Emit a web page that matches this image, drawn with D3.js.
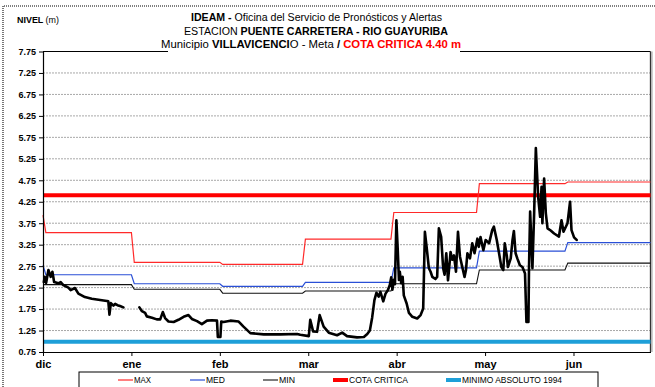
<!DOCTYPE html>
<html>
<head>
<meta charset="utf-8">
<script src="https://cdn.jsdelivr.net/npm/d3@7"></script>
<style>
  html, body { margin: 0; padding: 0; background: #fff; }
  svg { display: block; font-family: "Liberation Sans", Arial, sans-serif; }
</style>
</head>
<body>
<svg id="chart" width="655" height="387"></svg>
<script>
// ---- data ----------------------------------------------------------------
// Day index: 0 = last reading before 1 Dec, 1 = 1 Dec ... 213 = 30 Jun (leap year)
const months = ["dic", "ene", "feb", "mar", "abr", "may", "jun"];
const monthTicks = [0, 31, 62, 93, 124, 155, 186];
const monthFirstDay = [1, 32, 63, 92, 123, 153, 184];
const monthLastDay = [31, 62, 91, 122, 152, 183, 213];

// Historical monthly levels (m)
const maxLevels = [3.53, 2.84, 2.79, 3.38, 4.00, 4.67, 4.71];
const medLevels = [2.55, 2.34, 2.28, 2.37, 2.71, 3.10, 3.30];
const minLevels = [2.32, 2.21, 2.12, 2.17, 2.34, 2.66, 2.82];
const openingMax = 3.94;
const openingMed = 2.77;
const openingMin = 2.32;

const cotaCritica = 4.40;
const minimoAbsoluto = 0.99;

const yTicks = [0.75, 1.25, 1.75, 2.25, 2.75, 3.25, 3.75, 4.25, 4.75, 5.25, 5.75, 6.25, 6.75, 7.25, 7.75];
const yGrid = [1.25, 1.75, 2.25, 2.75, 3.25, 3.75, 4.25, 4.75, 5.25, 5.75, 6.25, 6.75, 7.25];

// Observed level [day, level]; null marks missing readings
const observed = [
  [0.3,2.38],[0.6,2.50],[1.1,2.36],[1.9,2.66],[2.7,2.50],[3.3,2.62],[3.9,2.38],[5.4,2.35],[6.2,2.38],
  [7.1,2.31],[8.9,2.25],[9.7,2.19],[11.2,2.24],[12.4,2.11],[14.7,2.03],[17.1,1.99],[22.4,1.94],[22.9,1.93],
  [23.3,1.62],[23.8,1.89],[24.7,1.83],[25.3,1.87],[26.1,1.84],[27.0,1.82],[28.2,1.79],
  null,
  [33.8,1.79],[34.7,1.70],[35.8,1.66],[36.4,1.58],[38.2,1.55],[39.9,1.51],[41.1,1.51],[42.0,1.68],[42.8,1.54],
  [44.0,1.46],[45.8,1.45],[47.5,1.50],[49.3,1.57],[51.0,1.61],[52.2,1.52],[54.0,1.47],[55.7,1.40],[57.5,1.48],
  [59.2,1.49],[61.0,1.48],[61.3,1.10],[62.2,1.10],[62.5,1.46],[63.3,1.45],[65.7,1.48],[68.6,1.46],[70.3,1.34],
  [72.7,1.19],[77.4,1.16],[83.2,1.16],[89.1,1.17],[90.2,1.15],[93.2,1.12],[93.7,1.50],[94.7,1.23],[96.1,1.22],
  [97.0,1.61],[98.4,1.34],[100.2,1.20],[103.1,1.14],[104.9,1.20],[106.6,1.12],[110.1,1.09],[112.5,1.10],
  [113.7,1.17],[114.6,1.25],[115.4,1.55],[116.2,1.96],[116.9,2.13],[117.7,2.04],[118.3,2.15],[119.3,1.93],
  [120.1,2.11],[120.9,2.19],[121.6,2.31],[122.1,2.49],[122.5,2.20],[123.0,2.43],[123.4,2.33],[123.9,3.82],
  [124.4,3.10],[124.8,2.43],[125.1,2.62],[125.6,2.35],[126.1,2.50],[126.5,2.07],[127.5,1.88],[128.3,1.66],
  [129.5,1.57],[131.2,1.53],[132.4,1.61],[133.3,1.76],[133.9,3.55],[134.5,3.20],[135.3,2.70],[135.9,2.62],
  [136.5,2.50],[137.6,2.45],[138.2,2.50],[138.8,3.63],[139.6,3.43],[140.3,2.70],[140.8,2.55],[141.4,3.05],
  [142.0,2.42],[142.4,2.70],[142.9,3.08],[143.5,2.90],[144.1,3.00],[144.8,2.62],[145.5,3.55],[146.2,2.97],
  [147.0,2.73],[147.8,2.50],[148.3,2.66],[148.8,3.05],[149.7,2.93],[150.5,3.28],[151.3,3.05],[152.3,3.39],
  [152.8,3.20],[153.4,3.43],[154.4,3.12],[155.2,3.36],[156.4,3.28],[157.5,3.59],[158.1,3.67],[159.1,3.36],
  [159.9,3.05],[160.7,2.73],[161.4,2.66],[161.9,3.28],[162.6,3.00],[163.0,2.73],[164.0,2.93],[164.6,3.35],
  [165.1,3.57],[165.7,3.05],[166.3,2.93],[167.2,2.77],[168.1,2.73],[169.0,2.58],[169.5,1.45],[170.2,1.45],
  [170.4,2.70],[170.8,4.02],[171.6,2.70],[172.2,3.98],[172.8,5.50],[173.6,4.37],[174.3,3.90],[174.8,4.60],
  [175.1,3.75],[175.7,4.79],[176.3,3.98],[176.9,3.63],[178.0,3.58],[179.2,3.51],[180.9,3.44],[181.8,3.82],
  [182.5,3.55],[183.9,3.75],[184.8,4.25],[185.3,3.59],[186.2,3.42],[187.1,3.36]
];

// ---- layout --------------------------------------------------------------
const svg = d3.select("#chart");
const plotLeft = 43, plotRight = 650.5, plotTop = 51.5, plotBottom = 352;

const x = d3.scaleLinear().domain([0, 213]).range([plotLeft, plotRight]);
const y = d3.scaleLinear().domain([0.75, 7.75]).range([plotBottom, plotTop]);

// outer dotted frame
svg.append("path")
  .attr("d", `M3,387 L3,6 L655,6`)
  .attr("fill", "none").attr("stroke", "#555").attr("stroke-width", 1.6)
  .attr("stroke-dasharray", "1,1");

// grid lines
svg.append("g").selectAll("line").data(yGrid).join("line")
  .attr("x1", plotLeft).attr("x2", plotRight)
  .attr("y1", d => y(d)).attr("y2", d => y(d))
  .attr("stroke", "#a8a8a8").attr("stroke-width", 1).attr("stroke-dasharray", "2,1");

// plot frame (top and right)
svg.append("line").attr("x1", plotLeft).attr("x2", plotRight).attr("y1", plotTop).attr("y2", plotTop)
  .attr("stroke", "#000").attr("stroke-width", 1);
svg.append("line").attr("x1", plotRight + 1.5).attr("x2", plotRight + 1.5).attr("y1", plotTop).attr("y2", plotBottom)
  .attr("stroke", "#cfcfcf").attr("stroke-width", 2);
svg.append("line").attr("x1", plotRight).attr("x2", plotRight).attr("y1", plotTop).attr("y2", plotBottom)
  .attr("stroke", "#333").attr("stroke-width", 1.3);

// step series built from the monthly values
function monthlySeries(opening, levels) {
  const pts = [[0, opening]];
  levels.forEach((v, i) => { pts.push([monthFirstDay[i], v]); pts.push([monthLastDay[i], v]); });
  return pts;
}
const line = d3.line().x(d => x(d[0])).y(d => y(d[1]));

// reference levels
svg.append("line")
  .attr("x1", plotLeft).attr("x2", plotRight).attr("y1", y(minimoAbsoluto)).attr("y2", y(minimoAbsoluto))
  .attr("stroke", "#1e9fd8").attr("stroke-width", 4);
svg.append("line")
  .attr("x1", plotLeft).attr("x2", plotRight).attr("y1", y(cotaCritica)).attr("y2", y(cotaCritica))
  .attr("stroke", "#ff0000").attr("stroke-width", 4);

svg.append("path").datum(monthlySeries(openingMin, minLevels)).attr("d", line)
  .attr("fill", "none").attr("stroke", "#111").attr("stroke-width", 1.1);
svg.append("path").datum(monthlySeries(openingMed, medLevels)).attr("d", line)
  .attr("fill", "none").attr("stroke", "#2a4fd6").attr("stroke-width", 1.2);
svg.append("path").datum(monthlySeries(openingMax, maxLevels)).attr("d", line)
  .attr("fill", "none").attr("stroke", "#ff2a2a").attr("stroke-width", 1.2);

// observed level
svg.append("path").datum(observed)
  .attr("d", d3.line().defined(d => d !== null).x(d => x(d[0])).y(d => y(d[1])))
  .attr("fill", "none").attr("stroke", "#000").attr("stroke-width", 2.6)
  .attr("stroke-linejoin", "round").attr("stroke-linecap", "round");

// axes
const xAxis = svg.append("g").attr("transform", `translate(0,${plotBottom})`)
  .call(d3.axisBottom(x).tickValues(monthTicks).tickFormat((d, i) => months[i]).tickSize(4).tickSizeOuter(0));
xAxis.select(".domain").attr("stroke", "#000").attr("stroke-width", 1.2);
xAxis.selectAll(".tick line").attr("stroke", "#000");
xAxis.selectAll(".tick text").attr("y", 8).attr("font-size", 11).attr("font-weight", "bold")
  .attr("font-family", "Liberation Sans, Arial, sans-serif").attr("fill", "#000");

const yAxis = svg.append("g").attr("transform", `translate(${plotLeft},0)`)
  .call(d3.axisLeft(y).tickValues(yTicks).tickFormat(d3.format(".2f")).tickSize(4).tickSizeOuter(0));
yAxis.select(".domain").attr("stroke", "#000").attr("stroke-width", 1.2);
yAxis.selectAll(".tick line").attr("stroke", "#000");
yAxis.selectAll(".tick text").attr("x", -7).attr("font-size", 9).attr("font-weight", "bold")
  .attr("font-family", "Liberation Sans, Arial, sans-serif").attr("fill", "#000");

// title block
svg.append("rect").attr("x", 168).attr("y", 9).attr("width", 292).attr("height", 44).attr("fill", "#fff");

const t1 = svg.append("text").attr("x", 191).attr("y", 20.5).attr("font-size", 10)
  .attr("textLength", 251).attr("lengthAdjust", "spacingAndGlyphs");
t1.append("tspan").attr("font-weight", "bold").text("IDEAM - ");
t1.append("tspan").text("Oficina del Servicio de Pronósticos y Alertas");

const t2 = svg.append("text").attr("x", 184).attr("y", 34.5).attr("font-size", 10)
  .attr("textLength", 264).attr("lengthAdjust", "spacingAndGlyphs");
t2.append("tspan").text("ESTACION ");
t2.append("tspan").attr("font-weight", "bold").text("PUENTE CARRETERA - RIO GUAYURIBA");

const t3 = svg.append("text").attr("x", 161).attr("y", 47.5).attr("font-size", 10)
  .attr("textLength", 300).attr("lengthAdjust", "spacingAndGlyphs");
t3.append("tspan").text("Municipio ");
t3.append("tspan").attr("font-weight", "bold").text("VILLAVICENCI");
t3.append("tspan").text("O - Meta  ");
t3.append("tspan").attr("font-weight", "bold").text("/  ");
t3.append("tspan").attr("font-weight", "bold").attr("fill", "#ff0000").text("COTA CRITICA 4.40 m");

const nivel = svg.append("text").attr("x", 17).attr("y", 23).attr("font-size", 8.5)
  .attr("textLength", 42).attr("lengthAdjust", "spacingAndGlyphs");
nivel.append("tspan").attr("font-weight", "bold").text("NIVEL ");
nivel.append("tspan").text("(m)");

// legend
const legendItems = [
  { label: "MAX", color: "#ff2a2a", width: 1.2, x0: 118, tx: 134, tl: 17 },
  { label: "MED", color: "#2a4fd6", width: 1.2, x0: 190, tx: 206, tl: 19 },
  { label: "MIN", color: "#111", width: 1.1, x0: 263, tx: 279, tl: 16 },
  { label: "COTA CRITICA", color: "#ff0000", width: 4, x0: 333, tx: 349, tl: 59 },
  { label: "MINIMO ABSOLUTO 1994", color: "#1e9fd8", width: 4, x0: 446, tx: 462, tl: 100 }
];
svg.append("rect").attr("x", 79).attr("y", 372).attr("width", 519).attr("height", 20)
  .attr("fill", "#fff").attr("stroke", "#000").attr("stroke-width", 1);
const lg = svg.append("g").selectAll("g").data(legendItems).join("g");
lg.append("line").attr("x1", d => d.x0).attr("x2", d => d.x0 + 15).attr("y1", 380).attr("y2", 380)
  .attr("stroke", d => d.color).attr("stroke-width", d => d.width);
lg.append("text").attr("x", d => d.tx).attr("y", 383).attr("font-size", 9)
  .attr("textLength", d => d.tl).attr("lengthAdjust", "spacingAndGlyphs").text(d => d.label);
</script>
</body>
</html>
